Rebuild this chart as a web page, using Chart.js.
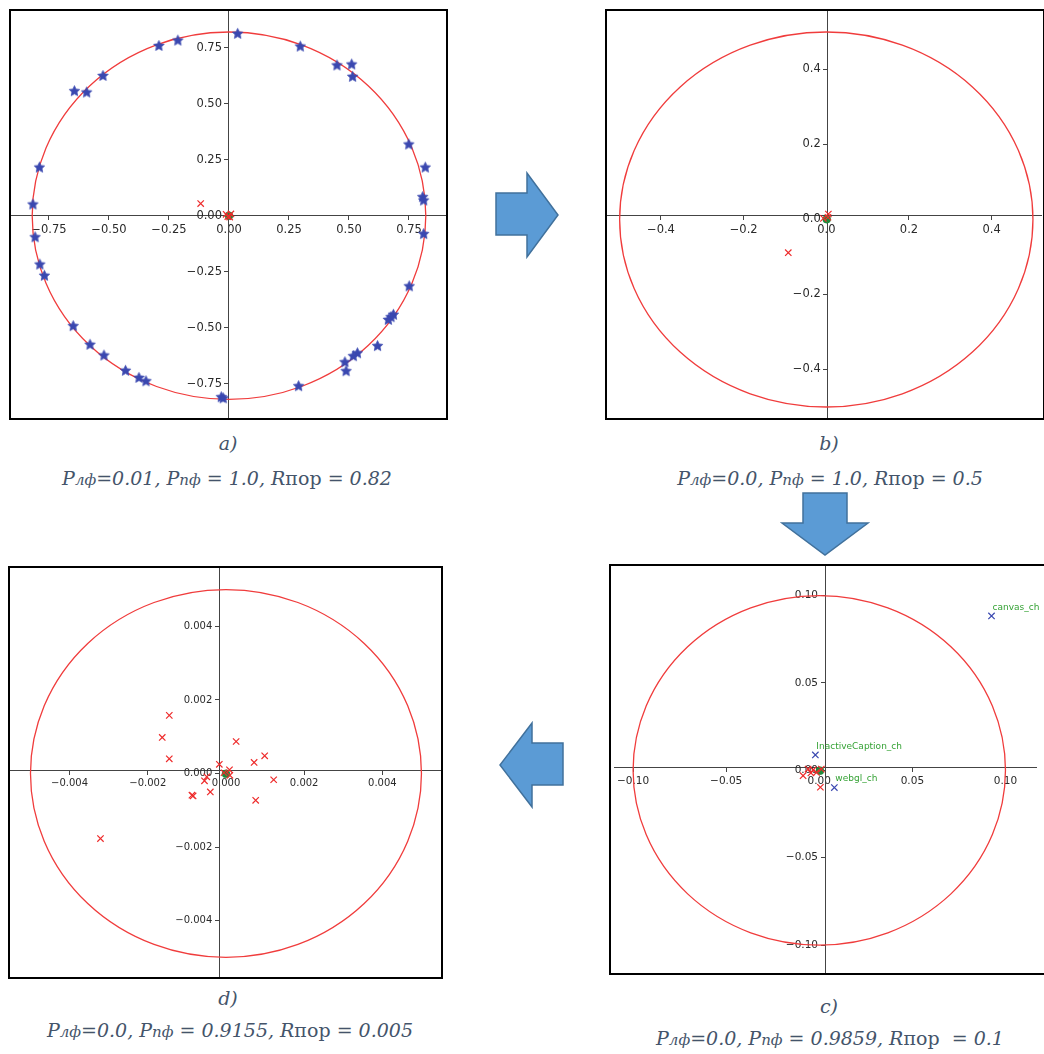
<!DOCTYPE html>
<html><head><meta charset="utf-8">
<script src="https://cdn.jsdelivr.net/npm/chart.js@4.4.1/dist/chart.umd.min.js"></script>
<style>
body{margin:0;background:#fff;width:1044px;height:1054px;position:relative;overflow:hidden;}
.box{position:absolute;border:2px solid #000;box-sizing:border-box;background:#fff}
canvas{position:absolute}
.cap{position:absolute;font-family:"DejaVu Serif",serif;font-style:italic;color:#44546A;font-size:19px;white-space:nowrap;transform:translateX(-50%);line-height:24px}
.up{font-style:normal}
.sm{font-size:15px}
svg{position:absolute;left:0;top:0}
</style></head><body>
<div class="box" style="left:9px;top:9px;width:439px;height:411px"></div>
<div class="box" style="left:605px;top:9px;width:440px;height:411px"></div>
<div class="box" style="left:609px;top:564px;width:440px;height:411px"></div>
<div class="box" style="left:8px;top:566px;width:435px;height:413px"></div>
<canvas id="ca" width="435" height="407" style="left:11px;top:11px"></canvas>
<canvas id="cb" width="435" height="407" style="left:607px;top:11px"></canvas>
<canvas id="cc" width="430" height="407" style="left:614px;top:566px"></canvas>
<canvas id="cd" width="431" height="409" style="left:10px;top:568px"></canvas>

<div class="cap" style="left:228px;top:431px">a)</div>
<div class="cap" style="left:227px;top:466px"><i>P</i><span class="sm">лф</span>=0.01, <i>P</i><span class="sm">пф</span> = 1.0, <i>R</i><span class="up">пор</span> = 0.82</div>
<div class="cap" style="left:829px;top:431px">b)</div>
<div class="cap" style="left:830px;top:466px"><i>P</i><span class="sm">лф</span>=0.0, <i>P</i><span class="sm">пф</span> = 1.0, <i>R</i><span class="up">пор</span> = 0.5</div>
<div class="cap" style="left:228px;top:986px">d)</div>
<div class="cap" style="left:230px;top:1018px"><i>P</i><span class="sm">лф</span>=0.0, <i>P</i><span class="sm">пф</span> = 0.9155, <i>R</i><span class="up">пор</span> = 0.005</div>
<div class="cap" style="left:829px;top:994px">c)</div>
<div class="cap" style="left:830px;top:1026px"><i>P</i><span class="sm">лф</span>=0.0, <i>P</i><span class="sm">пф</span> = 0.9859, <i>R</i><span class="up">пор</span> &nbsp;= 0.1</div>

<svg width="1044" height="1054">
<g fill="#5B9BD5" stroke="#41719C" stroke-width="1.5">
<polygon points="496,193 527,193 527,173 558,215 527,257 527,235 496,235"/>
<polygon points="803,493 847,493 847,523 868,523 825,555 782,523 803,523"/>
<polygon points="563,743 532,743 532,723 500,765 532,807 532,785 563,785"/>
</g></svg>

<script>
// ---------- data ----------
const circleR = [0.82, 0.5, 0.1, 0.005];

const aStarX = [0.036,0.297,0.450,0.511,0.515,0.749,0.818,0.807,0.811,0.811,0.751,0.685,0.675,0.664,0.619,0.535,0.518,0.483,0.488,0.290,-0.032,-0.024,-0.346,-0.375,-0.431,-0.521,-0.579,-0.649,-0.769,-0.788,-0.808,-0.817,-0.790,-0.644,-0.593,-0.525,-0.292,-0.213];
const aStarY = [0.814,0.757,0.673,0.677,0.622,0.320,0.217,0.085,0.070,-0.080,-0.313,-0.440,-0.451,-0.463,-0.580,-0.612,-0.625,-0.652,-0.692,-0.759,-0.808,-0.813,-0.737,-0.722,-0.690,-0.622,-0.574,-0.491,-0.266,-0.216,-0.094,0.052,0.217,0.558,0.552,0.626,0.760,0.784];
const aCrossX = [-0.118,-0.012,0.008,0.003,-0.005];
const aCrossY = [0.054,0.006,0.008,-0.006,-0.004];
const aDotX = [0];
const aDotY = [0];

const bCrossX = [-0.092,0.005,-0.007,0.004];
const bCrossY = [-0.0885,0.0147,0.003,0.006];
const bDotX = [0.001];
const bDotY = [0.001];

const cBlueX = [0.0925,-0.0021,0.0081];
const cBlueY = [0.0883,0.0088,-0.0099];
const cBlueLabels = ['canvas_ch','InactiveCaption_ch','webgl_ch'];
const cRedX = [-0.0087,0.0006,-0.006,-0.0033,-0.0015,0.0011,-0.0045];
const cRedY = [-0.0031,-0.0097,0.0007,0.0002,-0.0012,0.0007,-0.0015];
const cDotX = [0.0004];
const cDotY = [-0.0002];

const dRedX = [-0.00145,-0.00163,-0.00145,0.00026,0.00099,0.00072,-0.00017,0.00009,0.00122,-0.00049,-0.00055,-0.0004,-0.00084,-0.00087,0.00076,-0.00321,0.0001,-0.00005];
const dRedY = [0.00158,0.00098,0.00040,0.00087,0.00048,0.00030,0.00025,0.0001,-0.00017,-0.00009,-0.0002,-0.0005,-0.00061,-0.00059,-0.00073,-0.00177,-0.00005,0.00002];
const dDotX = [0.0];
const dDotY = [-0.00001];

const aTicks = [-0.75,-0.5,-0.25,0,0.25,0.5,0.75];
const aTickLabels = ['−0.75','−0.50','−0.25','0.00','0.25','0.50','0.75'];
const bTicks = [-0.4,-0.2,0,0.2,0.4];
const bTickLabels = ['−0.4','−0.2','0.0','0.2','0.4'];
const cTicks = [-0.1,-0.05,0,0.05,0.1];
const cTickLabels = ['−0.10','−0.05','0.00','0.05','0.10'];
const dTicks = [-0.004,-0.002,0,0.002,0.004];
const dTickLabels = ['−0.004','−0.002','0.000','0.002','0.004'];

// ---------- helpers ----------
const zip = (xs, ys) => xs.map((x, i) => ({x, y: ys[i]}));
const RED = '#ee2b2b', BLUE = '#3a48b0', GREEN = '#1f8a3c', TXT = '#2a2a2a', AX = '#444';

function starImage(color, r) {
  const c = document.createElement('canvas');
  const s = Math.ceil(r * 2 + 2);
  c.width = s; c.height = s;
  const g = c.getContext('2d');
  g.beginPath();
  for (let i = 0; i < 10; i++) {
    const rr = i % 2 === 0 ? r : r * 0.47;
    const a = -Math.PI / 2 + i * Math.PI / 5;
    const px = s / 2 + rr * Math.cos(a), py = s / 2 + rr * Math.sin(a) + 0.5;
    i === 0 ? g.moveTo(px, py) : g.lineTo(px, py);
  }
  g.closePath();
  g.fillStyle = color; g.fill();
  g.strokeStyle = color; g.lineWidth = 0.8; g.stroke();
  return c;
}

function ringPlugin(R) {
  return {
    id: 'ring',
    beforeDatasetsDraw(chart) {
      const {ctx, scales: {x, y}} = chart;
      const cx = x.getPixelForValue(0), cy = y.getPixelForValue(0);
      const rx = x.getPixelForValue(R) - cx, ry = cy - y.getPixelForValue(R);
      ctx.save();
      ctx.beginPath();
      ctx.ellipse(cx, cy, rx, ry, 0, 0, Math.PI * 2);
      ctx.strokeStyle = '#f03c3c'; ctx.lineWidth = 1.3;
      ctx.stroke();
      ctx.restore();
    }
  };
}

const labelPlugin = {
  id: 'ptlabels',
  afterDatasetsDraw(chart) {
    const ctx = chart.ctx;
    chart.data.datasets.forEach((ds, di) => {
      if (!ds.pointLabels) return;
      const meta = chart.getDatasetMeta(di);
      ctx.save();
      ctx.font = '9px "DejaVu Sans"';
      ctx.fillStyle = '#35a235';
      ctx.textBaseline = 'middle';
      ctx.textAlign = 'left';
      meta.data.forEach((pt, i) => ctx.fillText(ds.pointLabels[i], pt.x + 1, pt.y - 8.5));
      ctx.restore();
    });
  }
};

function baseAxis(ticks, labels, fs, range, pos) {
  return {
    type: 'linear', position: pos, min: range[0], max: range[1],
    afterBuildTicks: s => { s.ticks = ticks.map(v => ({value: v})); },
    ticks: {callback: (v, i) => labels[i], font: {family: 'DejaVu Sans', size: fs}, color: TXT, padding: 3, autoSkip: false, maxRotation: 0},
    grid: {drawOnChartArea: false, drawTicks: true, tickLength: 4, color: AX},
    border: {display: true, color: AX, width: 1}
  };
}

function makeChart(id, c) {
  const cv = document.getElementById(id);
  const pad = Object.assign({left: 0, right: 0, top: 0, bottom: 0}, c.pad || {});
  const areaW = cv.width - pad.left - pad.right;
  // x axis: line, tick marks and labels below it
  const xs = baseAxis(c.ticks, c.labels, c.fs, c.xr, {y: c.crossY});
  // y axis: line and tick marks only
  const ys = baseAxis(c.ticks, c.labels, c.fs, c.yr, {x: c.crossX});
  ys.ticks = Object.assign({}, ys.ticks, {display: false});
  // y labels: a second axis sharing the same range, set 7px left of the line
  const shift = 7 * (c.xr[1] - c.xr[0]) / areaW;
  const yl = baseAxis(c.ticks, c.labels, c.fs, c.yr, {x: c.crossX - shift});
  yl.grid = {display: false};
  yl.border = {display: false};
  yl.ticks = Object.assign({}, yl.ticks, {padding: -Math.ceil(c.fs * 0.6) - 1});
  return new Chart(cv, {
    type: 'scatter',
    data: {datasets: c.datasets},
    options: {
      responsive: false, animation: false, events: [],
      layout: {padding: pad, autoPadding: false},
      plugins: {legend: {display: false}, tooltip: {enabled: false}},
      scales: {x: xs, y: ys, yl: yl}
    },
    plugins: [ringPlugin(c.r), labelPlugin]
  });
}

const crossDs = (xs, ys, color) => ({data: zip(xs, ys), pointStyle: 'crossRot', pointRadius: 4.5, borderColor: color, backgroundColor: color, borderWidth: 1.2, clip: false});
const dotDs = (xs, ys) => ({data: zip(xs, ys), pointStyle: 'circle', pointRadius: 4, borderColor: GREEN, backgroundColor: GREEN, borderWidth: 0.5});

makeChart('ca', {
  xr: [-0.9083, 0.9042], yr: [-0.9031, 0.9138], crossX: 0, crossY: 0, r: circleR[0],
  ticks: aTicks, labels: aTickLabels, fs: 11.5,
  datasets: [
    {data: zip(aStarX, aStarY), pointStyle: starImage(BLUE, 5.5), pointRadius: 5},
    crossDs(aCrossX, aCrossY, RED),
    dotDs(aDotX, aDotY)
  ]
});
makeChart('cb', {
  xr: [-0.5306, 0.5219], yr: [-0.5293, 0.556], crossX: 0.0034, crossY: 0.0101, r: circleR[1],
  ticks: bTicks, labels: bTickLabels, fs: 11.5,
  datasets: [crossDs(bCrossX, bCrossY, RED), dotDs(bDotX, bDotY)]
});
makeChart('cc', {
  xr: [-0.1102, 0.1164], yr: [-0.116, 0.1169], crossX: 0.0031, crossY: 0.0015, r: circleR[2],
  ticks: cTicks, labels: cTickLabels, fs: 10.5, pad: {right: 8},
  datasets: [
    Object.assign(crossDs(cBlueX, cBlueY, BLUE), {pointLabels: cBlueLabels}),
    crossDs(cRedX, cRedY, RED),
    dotDs(cDotX, cDotY)
  ]
});
makeChart('cd', {
  xr: [-0.005524, 0.0055], yr: [-0.005533, 0.005587], crossX: -0.00017, crossY: 0.000076, r: circleR[3],
  ticks: dTicks, labels: dTickLabels, fs: 10,
  datasets: [crossDs(dRedX, dRedY, RED), dotDs(dDotX, dDotY)]
});
</script>
</body></html>
